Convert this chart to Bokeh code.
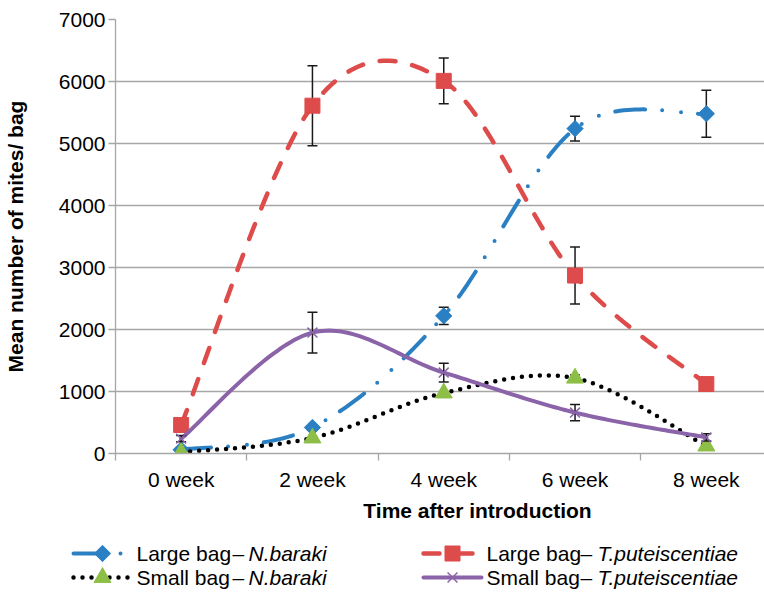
import numpy as np
from bokeh.plotting import figure
from bokeh.layouts import column, row
from bokeh.models import Range1d, FixedTicker
from bokeh.core.properties import value
from bokeh.embed import file_html
from bokeh.resources import INLINE

# ---------------- data ----------------
weeks = ["0 week", "2 week", "4 week", "6 week", "8 week"]
x_idx = [0, 1, 2, 3, 4]
large_nb = [60, 420, 2220, 5240, 5480]
large_nb_err = [0, 0, 140, 200, 380]
large_tp = [460, 5610, 6010, 2870, 1120]
large_tp_err = [0, 645, 370, 460, 0]
small_nb = [20, 250, 975, 1215, 120]
small_nb_err = [0, 0, 0, 50, 0]
small_tp = [240, 1950, 1305, 660, 260]
small_tp_err = [50, 330, 150, 130, 60]
y_ticks = [0, 1000, 2000, 3000, 4000, 5000, 6000, 7000]

FONT = "Liberation Sans"
GRID = "#A6A6A6"
BLUE = "#2B80C3"
RED = "#DE4B4B"
GREEN = "#8DBE46"
PURPLE = "#8A63A9"

W = 764
LEFT = 115
H_MAIN = 495
H_LEG = 97


def smooth(xs, ys, n=40):
    """Excel-like smoothed line (Catmull-Rom as cubic Bezier) through the points."""
    P = np.column_stack([xs, ys]).astype(float)
    Pp = np.vstack([P[0], P, P[-1]])
    t = np.linspace(0, 1, n)[:, None]
    out = []
    for i in range(len(P) - 1):
        p0 = Pp[i + 1]
        p3 = Pp[i + 2]
        c1 = p0 + (Pp[i + 2] - Pp[i]) / 6.0
        c2 = p3 - (Pp[i + 3] - Pp[i + 1]) / 6.0
        seg = ((1 - t) ** 3) * p0 + 3 * ((1 - t) ** 2) * t * c1 + 3 * (1 - t) * (t ** 2) * c2 + (t ** 3) * p3
        if i > 0:
            seg = seg[1:]
        out.append(seg)
    out = np.vstack(out)
    return out[:, 0], out[:, 1]


series = [
    dict(a="Large bag", b="N.baraki", y=large_nb, err=large_nb_err, color=BLUE,
         dash="30 17 0 19 0 17", lw=4, marker="square", angle=np.pi / 4, size=11.5,
         fill=BLUE, mline=BLUE, mlw=1, col=0, row=0),
    dict(a="Large bag", b="T.puteiscentiae", y=large_tp, err=large_tp_err, color=RED,
         dash="16 17", lw=4.5, marker="square", angle=0.0, size=15,
         fill=RED, mline=RED, mlw=1, col=1, row=0),
    dict(a="Small bag", b="N.baraki", y=small_nb, err=small_nb_err, color="black",
         dash="0 9", lw=4.5, marker="triangle", angle=0.0, size=17,
         fill=GREEN, mline=GREEN, mlw=1, col=0, row=1),
    dict(a="Small bag", b="T.puteiscentiae", y=small_tp, err=small_tp_err, color=PURPLE,
         dash="solid", lw=4, marker="x", angle=0.0, size=14,
         fill=None, mline=PURPLE, mlw=1.5, col=1, row=1),
]

# ---------------- main chart ----------------
p = figure(width=W, height=H_MAIN, x_range=Range1d(-0.5, 4.443), y_range=Range1d(0, 7000),
           output_backend="svg", toolbar_location=None,
           min_border_left=LEFT, min_border_right=0, min_border_top=19, min_border_bottom=42)
p.outline_line_color = None
p.xgrid.visible = False
p.ygrid.grid_line_color = GRID
p.ygrid.grid_line_width = 1.3
p.ygrid.ticker = FixedTicker(ticks=y_ticks)

p.yaxis.ticker = FixedTicker(ticks=y_ticks)
p.yaxis.axis_label = "Mean number of mites/ bag"
p.yaxis.axis_label_text_font = FONT
p.yaxis.axis_label_text_font_size = "21px"
p.yaxis.axis_label_text_font_style = "bold"
p.yaxis.axis_label_text_color = "black"
p.yaxis.axis_label_standoff = 29
p.yaxis.major_label_standoff = 3
p.yaxis.major_tick_out = 7
p.yaxis.major_tick_in = 0
p.yaxis.minor_tick_out = 0
p.yaxis.minor_tick_in = 0

p.xaxis.ticker = FixedTicker(ticks=x_idx, minor_ticks=[-0.5, 0.5, 1.5, 2.5, 3.5])
p.xaxis.major_label_overrides = {i: w for i, w in zip(x_idx, weeks)}
p.xaxis.major_tick_out = 0
p.xaxis.major_tick_in = 0
p.xaxis.minor_tick_out = 7
p.xaxis.minor_tick_in = 0
p.xaxis.major_label_standoff = 7

for ax in (p.xaxis[0], p.yaxis[0]):
    ax.axis_line_color = GRID
    ax.axis_line_width = 1.3
    ax.major_tick_line_color = GRID
    ax.major_tick_line_width = 1.3
    ax.minor_tick_line_color = GRID
    ax.minor_tick_line_width = 1.3
    ax.major_label_text_font = FONT
    ax.major_label_text_font_size = "21px"
    ax.major_label_text_color = "black"

for s in series:
    sx, sy = smooth(x_idx, s["y"])
    p.line(sx, sy, line_color=s["color"], line_width=s["lw"], line_dash=s["dash"],
           line_cap="round", line_join="round")
    ex = [x for x, e in zip(x_idx, s["err"]) if e > 0]
    lo = [v - e for v, e in zip(s["y"], s["err"]) if e > 0]
    hi = [v + e for v, e in zip(s["y"], s["err"]) if e > 0]
    if ex:
        p.segment(x0=ex, y0=lo, x1=ex, y1=hi, line_color="#1a1a1a", line_width=1.5)
        p.scatter(x=ex + ex, y=lo + hi, marker="dash", size=10, line_color="#1a1a1a", line_width=1.5)
    p.scatter(x=x_idx, y=s["y"], marker=s["marker"], size=s["size"], angle=s["angle"],
              fill_color=s["fill"], line_color=s["mline"], line_width=s["mlw"])

# ---------------- legend + x title (pixel coordinates) ----------------
lg = figure(width=W, height=H_LEG, x_range=Range1d(0, W), y_range=Range1d(H_MAIN + H_LEG, H_MAIN),
            output_backend="svg", toolbar_location=None,
            min_border_left=0, min_border_right=0, min_border_top=0, min_border_bottom=0,
            x_axis_location=None, y_axis_location=None)
lg.outline_line_color = None
lg.grid.visible = False

lg.text(x=[477], y=[510], text=["Time after introduction"], text_font=value(FONT),
        text_font_size="21px", text_font_style="bold", text_align="center",
        text_baseline="middle", text_color="black")

cols = [dict(l0=73, l1=131, m=102, ta=136, td=232, tb=248),
        dict(l0=423, l1=481, m=452, ta=486, td=580, tb=597)]
rows = [553, 577]

for s in series:
    c = cols[s["col"]]
    yy = rows[s["row"]]
    lg.line([c["l0"], c["l1"]], [yy, yy], line_color=s["color"], line_width=s["lw"],
            line_dash=s["dash"], line_cap="round")
    lg.scatter([c["m"]], [yy], marker=s["marker"], size=s["size"], angle=s["angle"],
               fill_color=s["fill"], line_color=s["mline"], line_width=s["mlw"])
    lg.text(x=[c["ta"]], y=[yy], text=[s["a"]], text_font=value(FONT), text_font_size="21px",
            text_baseline="middle", text_color="black")
    lg.text(x=[c["td"]], y=[yy], text=["–"], text_font=value(FONT), text_font_size="21px",
            text_baseline="middle", text_color="black")
    lg.text(x=[c["tb"]], y=[yy], text=[s["b"]], text_font=value(FONT), text_font_size="21px",
            text_font_style="italic", text_baseline="middle", text_color="black")

layout = column(p, row(lg))
open("out.html", "w").write(file_html(layout, INLINE))
